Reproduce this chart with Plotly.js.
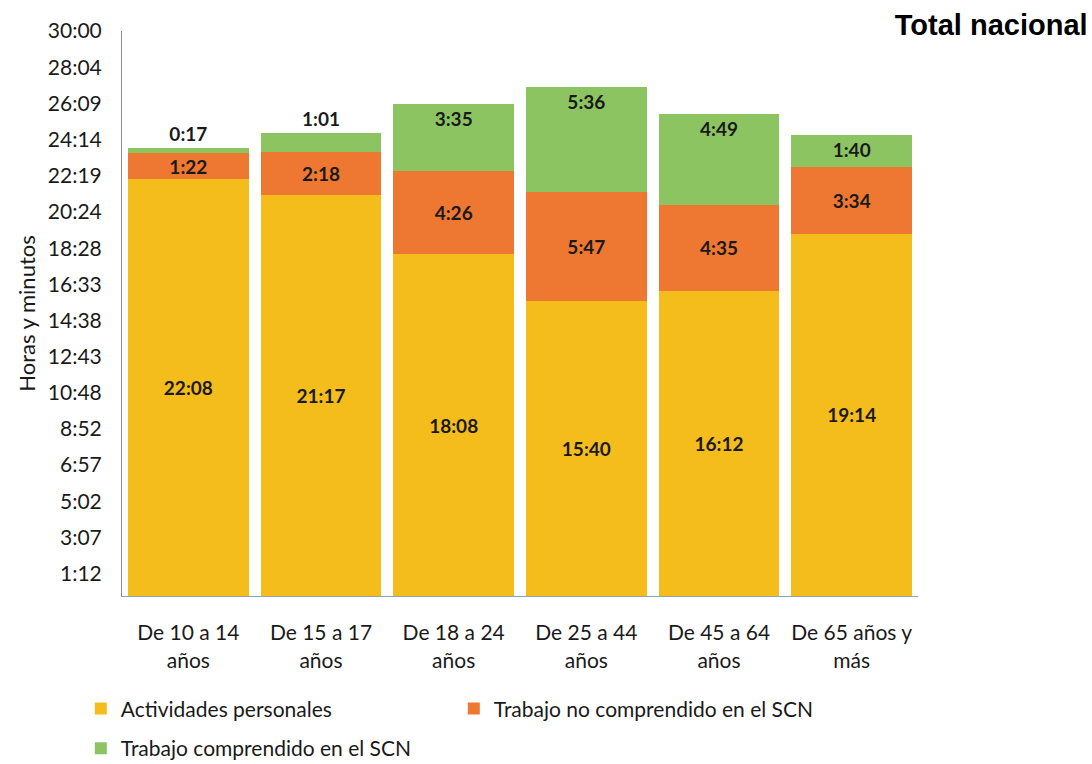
<!DOCTYPE html>
<html>
<head>
<meta charset="utf-8">
<script src="https://cdn.plot.ly/plotly-3.0.1.min.js"></script>
<style>html,body{margin:0;padding:0;background:#fff;}#chart{width:1092px;height:764px;}</style>
</head>
<body>
<div id="chart"></div>
<script>
const categories = ["De 10 a 14<br>años", "De 15 a 17<br>años", "De 18 a 24<br>años", "De 25 a 44<br>años", "De 45 a 64<br>años", "De 65 años y<br>más"];
const actividadesPersonales = ["22:08", "21:17", "18:08", "15:40", "16:12", "19:14"];
const trabajoNoSCN = ["1:22", "2:18", "4:26", "5:47", "4:35", "3:34"];
const trabajoSCN = ["0:17", "1:01", "3:35", "5:36", "4:49", "1:40"];
const tickLabels = ["1:12", "3:07", "5:02", "6:57", "8:52", "10:48", "12:43", "14:38", "16:33", "18:28", "20:24", "22:19", "24:14", "26:09", "28:04", "30:00"];

const toMin = s => { const p = s.split(":"); return parseInt(p[0], 10) * 60 + parseInt(p[1], 10); };
const tickVals = tickLabels.map(toMin);

const font = "Lato, 'Open Sans', sans-serif";
const lblFont = {family: font, size: 19, color: "#1a1a1a", weight: "bold"};

function mk(name, vals, color, positions, anchor, legend) {
  return {
    type: "bar", name: name, x: categories, y: vals.map(toMin),
    text: vals, textposition: positions || "inside", insidetextanchor: anchor || "middle",
    textfont: lblFont, insidetextfont: lblFont, outsidetextfont: lblFont,
    constraintext: "none", cliponaxis: false, hoverinfo: "skip",
    marker: {color: color, line: {width: 0}}, legend: legend || "legend"
  };
}

const data = [
  mk("Actividades personales", actividadesPersonales, "#F5BD1C"),
  mk("Trabajo no comprendido en el SCN", trabajoNoSCN, "#EE7831"),
  mk("Trabajo comprendido en el SCN", trabajoSCN, "#8CC462", ["outside", "outside", "inside", "inside", "inside", "inside"], "end", "legend2")
];

const legFont = {family: font, size: 21, color: "#1a1a1a"};

const layout = {
  width: 1092, height: 764,
  margin: {l: 122, r: 174, t: 31, b: 168},
  paper_bgcolor: "#fff", plot_bgcolor: "#fff",
  barmode: "stack", bargap: 0.09,
  showlegend: true,
  title: {text: "<b>Total nacional</b>", font: {family: "Liberation Sans, Arial, sans-serif", size: 29, color: "#000"},
          xref: "container", yref: "container", x: 0.996, xanchor: "right", y: 0.981, yanchor: "top"},
  xaxis: {
    showline: true, linecolor: "#8EA3B8", linewidth: 1, ticks: "", showgrid: false,
    tickfont: {family: font, size: 21, color: "#1a1a1a"}, ticklabelstandoff: 18, fixedrange: true
  },
  yaxis: {
    range: [0, 1800], tickvals: tickVals, ticktext: tickLabels,
    showline: true, linecolor: "#8C8C8C", linewidth: 1, ticks: "", showgrid: false, zeroline: false,
    tickfont: {family: font, size: 21, color: "#1a1a1a"}, ticklabelstandoff: 15,
    title: {text: "Horas y minutos", font: {family: font, size: 22, color: "#1a1a1a"}, standoff: 6}
  },
  legend: {
    orientation: "h", xref: "container", yref: "container", x: 0.074, xanchor: "left", y: 0.099, yanchor: "top",
    entrywidth: 328, entrywidthmode: "pixels", traceorder: "normal",
    font: legFont, itemwidth: 30
  },
  legend2: {
    orientation: "h", xref: "container", yref: "container", x: 0.074, xanchor: "left", y: 0.047, yanchor: "top",
    font: legFont, itemwidth: 30
  }
};

Plotly.newPlot("chart", data, layout, {displayModeBar: false, staticPlot: true});
</script>
</body>
</html>
